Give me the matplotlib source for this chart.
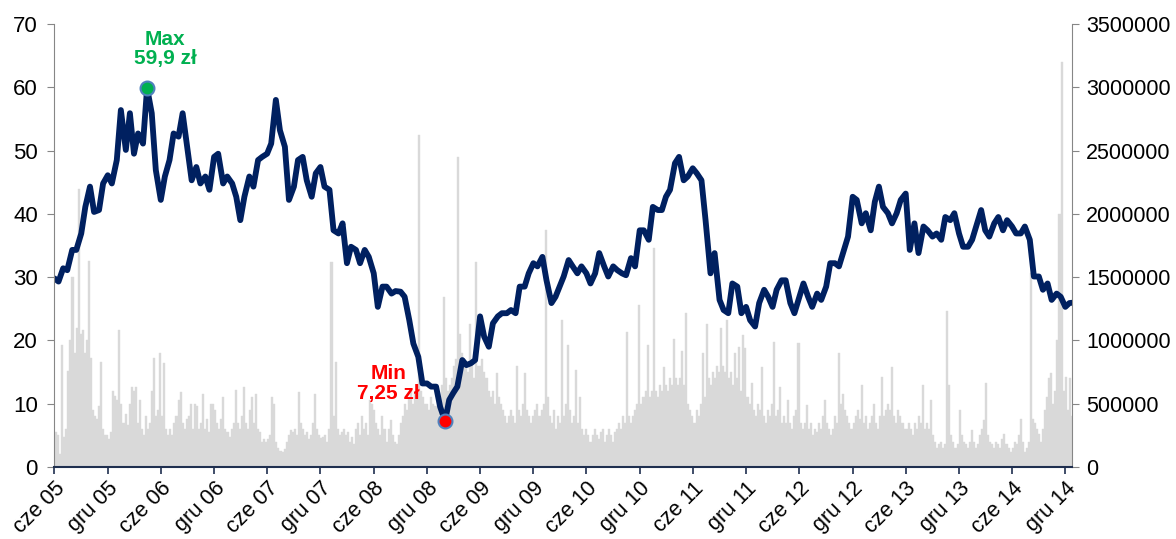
import matplotlib
matplotlib.use('Agg')
import matplotlib.pyplot as plt
import numpy as np
import pandas as pd

plt.rcParams['font.family'] = ['Liberation Sans', 'DejaVu Sans']

# closing price, zł - 1st and 15th of each month, Jun 2005 .. Jan 2015
price = [
    29.8, 29.3, 31.4, 31.1, 34.3, 34.3, 36.9, 41.1, 44.3, 40.3, 40.6, 44.8,
    46.1, 44.8, 48.5, 56.4, 50.1, 55.9, 49.5, 52.7, 51.1, 59.9, 55.9, 46.9,
    42.2, 45.9, 48.5, 52.7, 52.2, 55.9, 50.1, 45.3, 47.4, 44.8, 45.9, 43.8,
    49.0, 49.5, 44.8, 45.9, 44.8, 42.7, 39.0, 42.7, 45.9, 44.3, 48.5, 49.0,
    49.5, 51.1, 58.0, 53.2, 50.6, 42.2, 44.3, 48.5, 49.0, 45.3, 42.7, 46.4,
    47.4, 44.3, 43.8, 37.4, 36.9, 38.5, 32.2, 34.8, 34.3, 32.2, 34.3, 33.2,
    30.6, 25.3, 28.5, 28.5, 27.4, 27.8, 27.7, 26.9, 23.2, 19.5, 17.4, 13.2,
    13.2, 12.7, 12.7, 9.5, 7.25, 10.6, 11.7, 12.7, 16.9, 16.1, 16.4, 16.9,
    23.8, 20.6, 19.0, 22.7, 23.8, 24.3, 24.3, 24.8, 24.3, 28.5, 28.5, 30.6,
    32.2, 31.7, 33.2, 29.5, 25.9, 26.9, 28.5, 30.1, 32.7, 31.7, 30.6, 31.7,
    30.6, 29.0, 30.6, 33.8, 31.7, 30.1, 31.7, 31.1, 30.6, 30.3, 33.0, 31.7,
    37.4, 37.4, 35.9, 41.1, 40.6, 40.6, 42.7, 43.8, 48.0, 49.0, 45.3, 45.9,
    47.2, 46.4, 45.3, 39.0, 30.6, 33.8, 26.4, 24.8, 24.3, 29.0, 28.5, 24.3,
    25.3, 23.2, 22.2, 25.9, 28.0, 26.9, 25.3, 28.0, 29.5, 29.5, 25.9, 24.3,
    26.9, 29.0, 26.9, 25.3, 27.4, 26.4, 28.5, 32.2, 32.2, 31.7, 34.3, 36.4,
    42.7, 42.2, 38.5, 40.1, 37.4, 41.9, 44.3, 41.1, 40.1, 38.5, 40.1, 42.2,
    43.2, 34.3, 38.5, 33.8, 38.0, 37.4, 36.4, 36.9, 35.9, 39.5, 39.0, 40.1,
    36.9, 34.8, 34.8, 35.9, 38.5, 40.6, 37.4, 36.4, 38.5, 39.5, 37.4, 39.0,
    38.0, 36.9, 36.9, 38.0, 35.9, 30.1, 30.1, 28.0, 29.0, 26.4, 27.4, 26.9,
    25.3, 25.9, 26.0,
]

# weekly turnover, thousands of shares (weeks ending Friday from 3 Jun 2005)
volume_k = [
    280, 280, 250, 100, 960, 240, 300, 760, 1000, 1500, 900, 1100, 2200, 1050, 1080, 900, 1000, 1630, 860, 450, 400, 380, 480, 830, 300, 250,
    250, 220, 280, 600, 560, 530, 1080, 500, 350, 420, 330, 500, 630, 600, 630, 350, 530, 300, 250, 400, 300, 350, 600, 860, 400, 450,
    900, 400, 820, 300, 250, 300, 250, 350, 400, 530, 590, 350, 300, 380, 400, 500, 300, 500, 480, 300, 350, 580, 300, 380, 280, 500,
    500, 450, 350, 300, 380, 550, 300, 280, 240, 300, 350, 610, 350, 300, 400, 630, 350, 300, 450, 550, 350, 580, 300, 280, 200, 220,
    200, 220, 250, 550, 500, 200, 150, 130, 120, 140, 200, 250, 290, 280, 300, 250, 590, 350, 300, 250, 280, 220, 250, 350, 580, 300,
    250, 230, 240, 250, 200, 300, 1620, 400, 830, 300, 250, 280, 300, 250, 280, 200, 240, 180, 300, 350, 250, 400, 300, 350, 250, 530,
    500, 450, 350, 300, 250, 400, 300, 200, 300, 370, 250, 200, 180, 250, 350, 400, 500, 450, 550, 600, 500, 600, 650, 2620, 600, 550, 500,
    500, 450, 550, 500, 480, 600, 550, 650, 1340, 700, 600, 650, 700, 800, 850, 2450, 1050, 900, 850, 800, 750, 1130, 800, 700, 1620, 800,
    800, 850, 750, 700, 600, 550, 600, 500, 740, 550, 500, 450, 400, 350, 400, 450, 400, 350, 800, 450, 400, 500, 740, 450, 400, 350,
    400, 450, 500, 400, 450, 500, 1870, 550, 400, 350, 450, 300, 400, 350, 1160, 400, 500, 960, 450, 350, 400, 770, 350, 550, 300, 250,
    300, 250, 200, 250, 300, 250, 220, 280, 300, 200, 250, 300, 250, 200, 280, 300, 350, 300, 400, 350, 1070, 400, 350, 400, 450, 500,
    1280, 500, 550, 600, 960, 550, 600, 1730, 600, 550, 650, 600, 790, 650, 600, 700, 650, 1010, 700, 650, 700, 920, 650, 1220, 500, 450,
    400, 350, 450, 400, 500, 900, 550, 1130, 700, 650, 750, 700, 800, 750, 1100, 800, 750, 1160, 700, 750, 650, 900, 700, 950, 600, 1040,
    940, 550, 500, 660, 450, 400, 500, 450, 790, 400, 350, 450, 400, 500, 990, 400, 450, 630, 350, 400, 350, 530, 350, 300, 400, 450,
    980, 350, 300, 350, 490, 300, 350, 250, 300, 280, 350, 300, 400, 530, 350, 300, 250, 300, 400, 350, 900, 500, 580, 450, 400, 350, 300,
    350, 400, 450, 380, 650, 350, 400, 300, 350, 400, 500, 350, 300, 400, 710, 400, 450, 500, 450, 790, 400, 350, 450, 400, 350, 300,
    300, 350, 300, 250, 350, 300, 400, 350, 650, 300, 350, 300, 530, 250, 200, 150, 180, 200, 150, 180, 1230, 650, 250, 200, 150, 180,
    450, 250, 200, 180, 150, 200, 290, 200, 150, 180, 250, 300, 370, 660, 250, 200, 180, 150, 200, 180, 150, 220, 260, 180, 150, 120,
    150, 200, 180, 250, 380, 200, 120, 150, 200, 1530, 380, 350, 300, 260, 200, 300, 450, 550, 700, 740, 500, 600, 1000, 2000, 3200, 600,
    710, 450, 700, 400,
]

tick_labels = ['cze 05', 'gru 05', 'cze 06', 'gru 06', 'cze 07', 'gru 07', 'cze 08',
               'gru 08', 'cze 09', 'gru 09', 'cze 10', 'gru 10', 'cze 11', 'gru 11',
               'cze 12', 'gru 12', 'cze 13', 'gru 13', 'cze 14', 'gru 14']

price_dates = pd.date_range('2005-06-01', periods=len(price), freq='SMS')
vol_dates = pd.date_range('2005-06-03', periods=len(volume_k), freq='W-FRI') - pd.Timedelta(days=3)
tick_dates = pd.date_range('2005-06-01', periods=len(tick_labels), freq='6MS')

NAVY = '#002060'
AXIS_GREY = '#868686'

fig = plt.figure(figsize=(11.76, 5.39), dpi=100)
ax = fig.add_axes([0.0463, 0.1336, 0.8653, 0.8219])
ax2 = ax.twinx()

# volume in the background
ax2.bar(vol_dates, np.array(volume_k) * 1000, width=7, color='#d9d9d9',
        edgecolor='#d9d9d9', linewidth=0.3)
ax2.set_ylim(0, 3500000)
ax2.set_yticks(np.arange(0, 3500001, 500000))
ax2.set_yticklabels([str(v) for v in range(0, 3500001, 500000)])

# price line on top
ax.set_zorder(ax2.get_zorder() + 1)
ax.patch.set_visible(False)
ax.plot(price_dates, price, color=NAVY, lw=4.2, solid_joinstyle='round',
        solid_capstyle='round')

i_max = int(np.argmax(price))
i_min = int(np.argmin(price))


def zl(v):
    return f'{v:g}'.replace('.', ',') + ' zł'


ax.plot(price_dates[i_max], price[i_max], 'o', ms=10, mfc='#00b050',
        mec='#4f81bd', mew=1.5, zorder=5)
ax.plot(price_dates[i_min], price[i_min], 'o', ms=10, mfc='#ff0000',
        mec='#4f81bd', mew=1.5, zorder=5)
ax.annotate('Max\n' + zl(price[i_max]), (price_dates[i_max], price[i_max]),
            xytext=(13, 14), textcoords='offset points', ha='center', va='bottom',
            color='#00b050', fontsize=15, fontweight='bold', linespacing=1.05)
ax.annotate('Min\n' + zl(price[i_min]), (price_dates[i_min], price[i_min]),
            xytext=(-41, 13), textcoords='offset points', ha='center', va='bottom',
            color='#ff0000', fontsize=15, fontweight='bold', linespacing=1.05)

ax.set_ylim(0, 70)
ax.set_yticks(range(0, 71, 10))
ax.set_xlim(pd.Timestamp('2005-06-01'), pd.Timestamp('2014-12-24'))
ax.set_xticks(tick_dates)
ax.set_xticklabels(tick_labels, rotation=45, ha='right', rotation_mode='anchor')

for a in (ax, ax2):
    for s in a.spines.values():
        s.set_visible(False)
ax.spines['left'].set_visible(True)
ax.spines['left'].set_color(AXIS_GREY)
ax.spines['bottom'].set_visible(True)
ax.spines['bottom'].set_color('#1f2f4f')
ax.spines['bottom'].set_linewidth(1.5)
ax2.spines['right'].set_visible(True)
ax2.spines['right'].set_color(AXIS_GREY)

ax.tick_params(axis='y', length=5, color=AXIS_GREY, labelsize=16, pad=7)
ax.tick_params(axis='x', length=5, width=1.2, color='#1f2f4f', labelsize=15.5, pad=3)
ax2.tick_params(axis='y', length=5, color=AXIS_GREY, labelsize=15.5, pad=5)

fig.savefig('out.png', dpi=100)
